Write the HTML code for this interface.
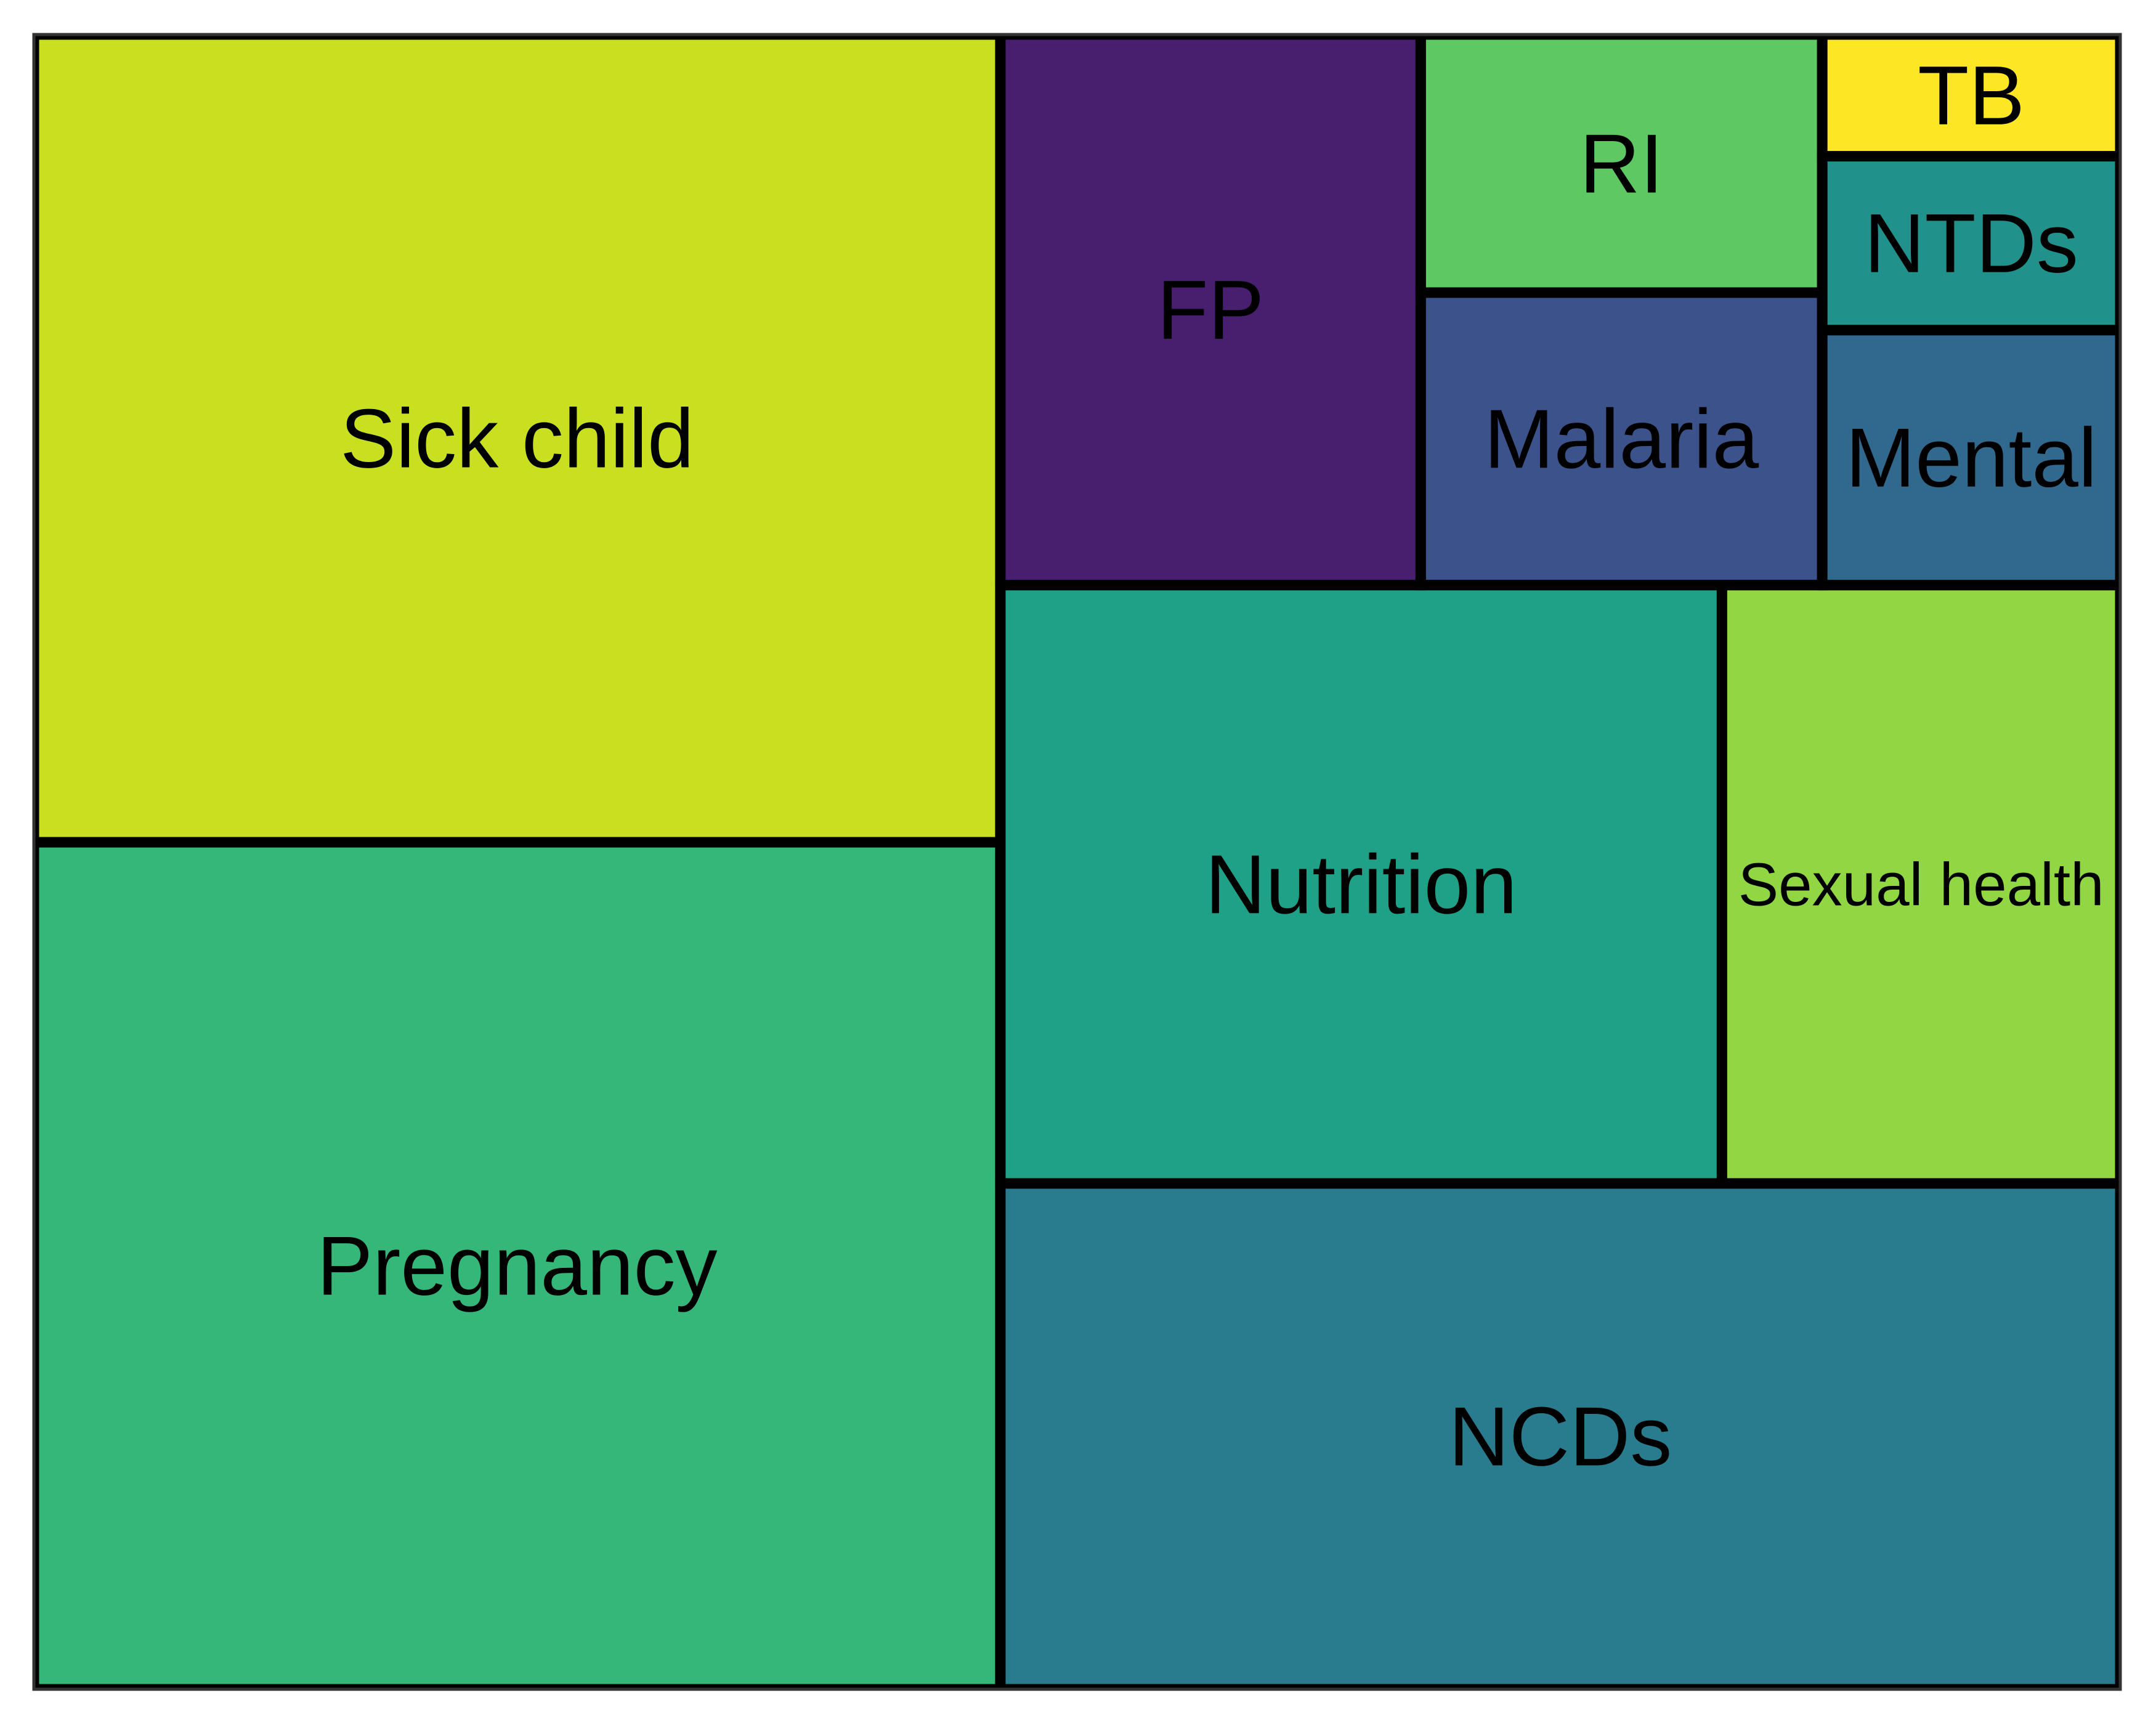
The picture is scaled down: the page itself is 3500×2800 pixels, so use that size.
<!DOCTYPE html>
<html><head><meta charset="utf-8"><style>
html,body{margin:0;padding:0;background:#fff;}
svg{display:block;font-family:"Liberation Sans",Arial,sans-serif;}
</style></head><body>
<svg id="chart" width="3500" height="2800" viewBox="0 0 3500 2800">
<defs><clipPath id="plotclip"><rect x="55" y="56" width="3387" height="2686"/></clipPath></defs>
<rect x="0" y="0" width="3500" height="2800" fill="#fff"/>
<g id="cells" clip-path="url(#plotclip)"></g>
<g id="labels"></g>
<rect x="55" y="56" width="3387" height="2686" fill="none" stroke="#333" stroke-width="5"/>
</svg>
<script>
const categories = ["Pregnancy","Sick child","NCDs","Nutrition","Sexual health","FP","Malaria","RI","Mental","NTDs","TB"];
const values = [23.7,22.6,16.4,12.5,6.9,6.7,3.4,3.0,2.2,1.5,1.05];
const colors = ["#35b779","#c8e020","#287c8e","#1fa187","#90d743","#481f6f","#3b528b","#5ec962","#31688e","#21918c","#fde725"];
const labelSizes = [136,136,136,136,98,136,136,136,136,136,136];
// layout groups: number of items per group and stacking orientation ('v' = vertical column at left, 'h' = horizontal row at bottom)
const groupCounts = [2,1,2,1,2,3];
const groupOrient = ["v","h","h","v","v","v"];

const PX = 55, PY = 56, PW = 3387, PH = 2686;
const NS = "http://www.w3.org/2000/svg";
const cells = document.getElementById('cells');
const labels = document.getElementById('labels');
const total = values.reduce((a,b)=>a+b,0);
const scale = PW*PH/total;
let rx = PX, ry = PY, rw = PW, rh = PH;
let idx = 0;
groupCounts.forEach((cnt, g) => {
  const items = [];
  for (let k=0;k<cnt;k++) items.push(idx+k);
  const area = items.reduce((s,i)=>s+values[i]*scale,0);
  if (groupOrient[g] === "v") {
    const w = area / rh;
    let yb = ry + rh;
    items.forEach(i => {
      const h = values[i]*scale / w;
      draw(i, rx, yb - h, w, h);
      yb -= h;
    });
    rx += w; rw -= w;
  } else {
    const h = area / rw;
    let xl = rx;
    items.forEach(i => {
      const w = values[i]*scale / h;
      draw(i, xl, ry + rh - h, w, h);
      xl += w;
    });
    rh -= h;
  }
  idx += cnt;
});
function draw(i, x, y, w, h) {
  const r = document.createElementNS(NS, 'rect');
  r.setAttribute('x', x); r.setAttribute('y', y);
  r.setAttribute('width', w); r.setAttribute('height', h);
  r.setAttribute('fill', colors[i]);
  r.setAttribute('stroke', '#000'); r.setAttribute('stroke-width', '17');
  
  
  cells.appendChild(r);
  const t = document.createElementNS(NS, 'text');
  t.setAttribute('x', x + w/2); t.setAttribute('y', y + h/2);
  t.setAttribute('text-anchor', 'middle'); t.setAttribute('dominant-baseline', 'central');
  t.setAttribute('font-size', labelSizes[i]); t.setAttribute('fill', '#000');
  
  
  t.textContent = categories[i];
  labels.appendChild(t);
}
</script>
</body></html>
